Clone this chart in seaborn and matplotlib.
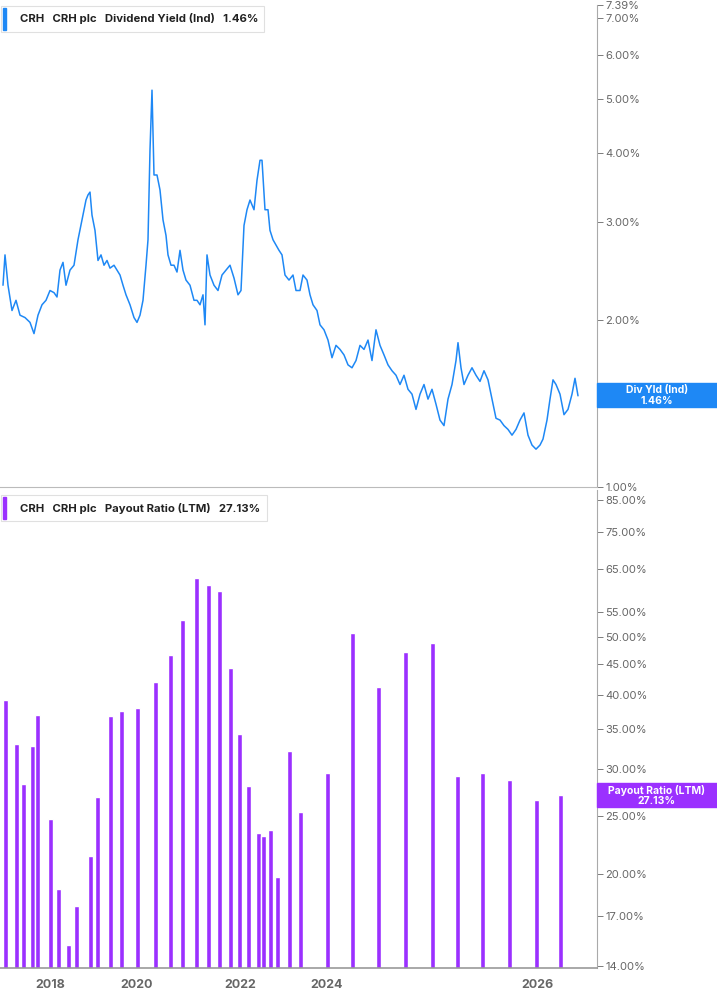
import matplotlib
matplotlib.use("Agg")
import matplotlib.pyplot as plt
import matplotlib.ticker as mticker
import seaborn as sns
import pandas as pd

# x is the chart's horizontal position (the time axis is not evenly spaced)
year_ticks = [50, 137, 240, 327, 537]
year_labels = ["2018", "2020", "2022", "2024", "2026"]

yield_x = [3, 5, 8, 12, 16, 20, 25, 30, 34, 38, 42, 46, 50, 54, 57, 60, 63, 66, 70, 74,
           78, 82, 86, 88, 90, 92, 95, 98, 101, 104, 107, 110, 114, 117, 120, 123, 126, 130, 134, 137,
           140, 143, 146, 148, 150, 152, 154, 157, 160, 163, 166, 168, 171, 174, 177, 180, 183, 186, 190, 194,
           197, 200, 203, 205, 207, 210, 214, 218, 222, 226, 230, 234, 238, 241, 244, 247, 250, 254, 257, 260,
           262, 265, 268, 270, 273, 276, 279, 282, 285, 289, 293, 296, 300, 303, 307, 310, 313, 317, 320, 324,
           328, 332, 336, 340, 344, 348, 352, 356, 360, 364, 368, 372, 376, 380, 384, 388, 392, 396, 400, 404,
           408, 412, 416, 420, 424, 428, 432, 436, 440, 444, 448, 452, 456, 458, 461, 464, 468, 472, 476, 480,
           484, 488, 492, 496, 500, 504, 508, 512, 516, 520, 524, 528, 532, 536, 540, 543, 547, 550, 553, 556,
           560, 564, 568, 572, 575, 578]
yield_pct = [2.31, 2.62, 2.31, 2.08, 2.17, 2.04, 2.02, 1.98, 1.89, 2.04, 2.13, 2.17, 2.26, 2.24, 2.20, 2.46, 2.54, 2.31, 2.46, 2.51,
             2.79, 3.03, 3.29, 3.36, 3.40, 3.09, 2.90, 2.56, 2.62, 2.51, 2.56, 2.48, 2.51, 2.46, 2.41, 2.31, 2.22, 2.13, 2.02, 1.98,
             2.04, 2.17, 2.51, 2.79, 4.05, 5.19, 3.65, 3.65, 3.43, 3.03, 2.84, 2.62, 2.51, 2.51, 2.44, 2.67, 2.46, 2.36, 2.31, 2.17,
             2.17, 2.13, 2.22, 1.96, 2.62, 2.41, 2.31, 2.26, 2.41, 2.46, 2.51, 2.38, 2.22, 2.26, 2.96, 3.16, 3.29, 3.16, 3.57, 3.88,
             3.88, 3.16, 3.16, 2.90, 2.79, 2.73, 2.67, 2.62, 2.41, 2.36, 2.41, 2.26, 2.26, 2.41, 2.36, 2.22, 2.13, 2.08, 1.96, 1.92,
             1.84, 1.71, 1.80, 1.77, 1.73, 1.66, 1.64, 1.69, 1.80, 1.77, 1.84, 1.69, 1.92, 1.80, 1.73, 1.66, 1.62, 1.59, 1.53, 1.59,
             1.50, 1.47, 1.38, 1.47, 1.53, 1.44, 1.50, 1.41, 1.32, 1.29, 1.44, 1.53, 1.69, 1.82, 1.64, 1.53, 1.59, 1.64, 1.59, 1.55,
             1.62, 1.56, 1.44, 1.33, 1.32, 1.29, 1.27, 1.24, 1.27, 1.32, 1.36, 1.24, 1.19, 1.17, 1.19, 1.22, 1.32, 1.44, 1.56, 1.53,
             1.47, 1.35, 1.38, 1.47, 1.57, 1.46]

payout_x = [5, 16, 23, 32, 37, 50, 58, 68, 76, 90, 97, 110, 121, 137, 155, 170, 182, 196, 208, 219,
            230, 239, 248, 258, 263, 270, 277, 289, 300, 327, 352, 378, 405, 432, 457, 482, 509, 536, 560]
payout_pct = [39.2, 33.0, 28.3, 32.8, 37.0, 24.7, 18.9, 15.2, 17.7, 21.4, 26.9, 36.8, 37.6, 38.0, 42.0, 46.6, 53.5, 62.8, 61.2, 59.8,
              44.4, 34.4, 28.1, 23.4, 23.2, 23.7, 19.8, 32.2, 25.4, 29.5, 50.8, 41.2, 47.2, 48.9, 29.2, 29.5, 28.8, 26.6, 27.1]

top_ticks = [1, 2, 3, 4, 5, 6, 7, 7.39]
bottom_ticks = [14, 17, 20, 25, 30, 35, 40, 45, 50, 55, 65, 75, 85]

blue = "#1e88f5"
purple = "#9b30ff"
grey = "#666666"

sns.set_style("white")
plt.rcParams["font.family"] = ["Inter", "DejaVu Sans"]

fig = plt.figure(figsize=(7.17, 10.05), dpi=100)
W, H = 717, 1005
ax1 = fig.add_axes([0, 1 - 487 / H, 597 / W, 482 / H])
ax2 = fig.add_axes([0, 1 - 968 / H, 597 / W, 478 / H])

line_df = pd.DataFrame({"x": yield_x, "y": yield_pct})
sns.lineplot(data=line_df, x="x", y="y", ax=ax1, color=blue, linewidth=1.1)
ax1.set_yscale("log")
ax1.set_ylim(1.0, 7.39)

ax2.bar(payout_x, payout_pct, width=5, color=purple)
ax2.set_yscale("log")
ax2.set_ylim(13.9, 88.3)

for ax, ticks in ((ax1, top_ticks), (ax2, bottom_ticks)):
    ax.set_xlim(0, 597)
    ax.yaxis.tick_right()
    ax.yaxis.set_major_locator(mticker.FixedLocator(ticks))
    ax.yaxis.set_minor_locator(mticker.NullLocator())
    ax.yaxis.set_major_formatter(mticker.FuncFormatter(lambda v, p: f"{v:.2f}%"))
    ax.tick_params(axis="y", labelsize=8, colors=grey, length=4, width=0.6, pad=2, direction="out")
    ax.set_xlabel("")
    ax.set_ylabel("")
    for s in ("top", "left"):
        ax.spines[s].set_visible(False)
    ax.spines["right"].set_color("#aaaaaa")
    ax.spines["bottom"].set_color("#bbbbbb")

ax1.set_xticks([])
ax2.set_xticks(year_ticks)
ax2.set_xticklabels(year_labels, fontsize=9, fontweight="bold", color=grey)
ax2.tick_params(axis="x", length=4, width=0.8, colors="#999999", labelcolor=grey, pad=4)
ax2.spines["bottom"].set_color("#999999")
ax2.spines["bottom"].set_linewidth(1.2)


def legend_box(y, width, color, text):
    fig.patches.append(plt.Rectangle((1 / W, 1 - (y + 13) / H), width / W, 26 / H,
                                     transform=fig.transFigure, facecolor="white",
                                     edgecolor="#e0e0e0", linewidth=0.8))
    fig.patches.append(plt.Rectangle((3 / W, 1 - (y + 11) / H), 3 / W, 22 / H,
                                     transform=fig.transFigure, color=color))
    fig.text(20 / W, 1 - y / H, text, fontsize=8.2, fontweight="bold",
             va="center", ha="left", color="#222222")


legend_box(19, 263, blue, "CRH   CRH plc   Dividend Yield (Ind)   1.46%")
legend_box(508, 266, purple, "CRH   CRH plc   Payout Ratio (LTM)   27.13%")

# value badges on the right axis
for yc, color, label, value in ((395, blue, "Div Yld (Ind)", "1.46%"),
                                (795, purple, "Payout Ratio (LTM)", "27.13%")):
    fig.patches.append(plt.Rectangle((597 / W, 1 - (yc + 12) / H), 120 / W, 24 / H,
                                     transform=fig.transFigure, color=color))
    fig.text(657 / W, 1 - (yc - 5) / H, label, fontsize=7.5, fontweight="bold",
             color="white", ha="center", va="center")
    fig.text(657 / W, 1 - (yc + 6) / H, value, fontsize=7.5, fontweight="bold",
             color="white", ha="center", va="center")

fig.savefig("out.png", dpi=100)
